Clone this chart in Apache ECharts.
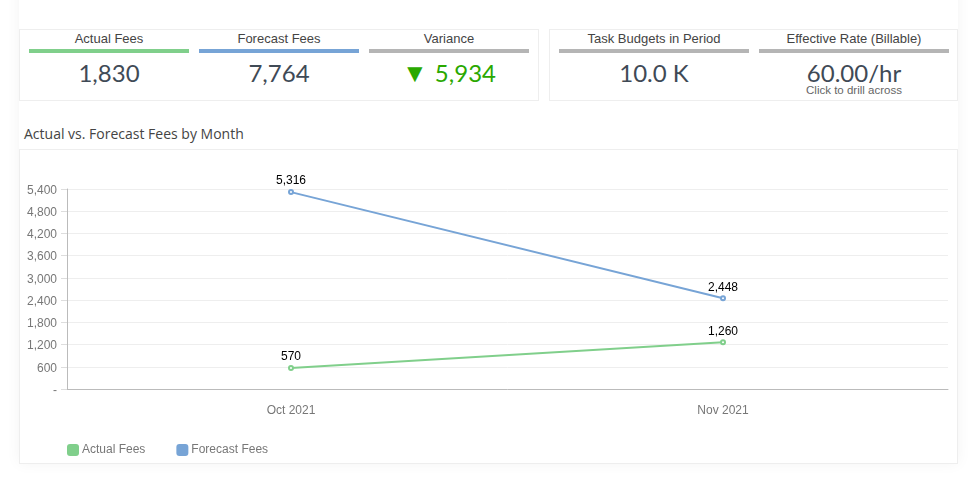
<!DOCTYPE html>
<html>
<head>
<meta charset="utf-8">
<script src="https://cdn.jsdelivr.net/npm/echarts@6/dist/echarts.min.js"></script>
<style>
    html, body { margin: 0; padding: 0; background: #fff; overflow: hidden; }
    body { width: 972px; height: 478px; position: relative; font-family: "Liberation Sans", sans-serif; }
    .sheet { position: absolute; left: 19px; top: -30px; width: 939px; height: 493px; background: #fff; box-shadow: 0 0 14px rgba(0,0,0,.05); }
    .box { position: absolute; box-sizing: border-box; border: 1px solid #eee; background: #fff; }
    .kpi-title, .kpi-value, .kpi-note { position: absolute; text-align: center; white-space: nowrap; }
    .kpi-title { top: 30px; height: 17px; line-height: 17px; font-size: 13px; color: #444; }
    .kpi-bar { position: absolute; top: 49px; height: 4px; }
    .kpi-value { top: 58px; height: 30px; line-height: 30px; font-family: Lato, sans-serif; font-size: 24px; color: #3f4a56; }
    .kpi-value span { font-family: "Liberation Sans", sans-serif; font-size: 26px; margin-right: 1px; }
    .kpi-note { top: 84px; height: 13px; line-height: 13px; font-size: 11.5px; color: #666; }
    #heading { position: absolute; left: 24px; top: 125px; line-height: 18px; font-family: "Open Sans", sans-serif; font-size: 14px; color: #444; }
    #chart { position: absolute; left: 20px; top: 150px; width: 937px; height: 312px; }
</style>
</head>
<body>
<div class="sheet"></div>
<div class="box" style="left:19px;top:29px;width:520px;height:72px"></div>
<div class="box" style="left:549px;top:29px;width:409px;height:72px"></div>
<div class="box" style="left:19px;top:149px;width:939px;height:315px"></div>
<div id="kpis"></div>
<div id="heading">Actual vs. Forecast Fees by Month</div>
<div id="chart"></div>

<script>
const months = ['Oct 2021', 'Nov 2021'];
const actualFees = [570, 1260];
const forecastFees = [5316, 2448];
const yTicks = [0, 600, 1200, 1800, 2400, 3000, 3600, 4200, 4800, 5400];

const kpiTitles = ['Actual Fees', 'Forecast Fees', 'Variance', 'Task Budgets in Period', 'Effective Rate (Billable)'];
const kpiValues = ['1,830', '7,764', '<span>▼</span> 5,934', '10.0 K', '60.00/hr'];
const kpiBarColors = ['#80cf8b', '#77a4d6', '#b5b5b5', '#b5b5b5', '#b5b5b5'];
const kpiValueColors = ['#3f4a56', '#3f4a56', '#2aa800', '#3f4a56', '#3f4a56'];
const kpiLeft = [29, 199, 369, 559, 759];
const kpiWidth = [160, 160, 160, 190, 190];

const kpis = document.getElementById('kpis');
kpiTitles.forEach((t, i) => {
    const pos = `left:${kpiLeft[i]}px;width:${kpiWidth[i]}px;`;
    kpis.innerHTML +=
        `<div class="kpi-title" style="${pos}">${t}</div>` +
        `<div class="kpi-bar" style="${pos}background:${kpiBarColors[i]}"></div>` +
        `<div class="kpi-value" style="${pos}color:${kpiValueColors[i]}">${kpiValues[i]}</div>`;
});
kpis.innerHTML += `<div class="kpi-note" style="left:759px;width:190px">Click to drill across</div>`;

const chart = echarts.init(document.getElementById('chart'));
const toPoints = arr => arr.map((v, i) => [i, v]);
const fmt = v => v === 0 ? '-' : v.toLocaleString('en-US');
const labelStyle = {
    show: true, position: 'top', distance: 2, color: '#000', fontSize: 12,
    fontFamily: 'Liberation Sans', formatter: p => p.value[1].toLocaleString('en-US')
};

chart.setOption({
    animation: false,
    textStyle: { fontFamily: 'Liberation Sans' },
    // chart div starts at (20,150), plot area runs 67-948 x 189-389 on the page
    grid: { left: 47, top: 39, width: 881, height: 200, containLabel: false },
    legend: {
        left: 42, top: 289, itemWidth: 12, itemHeight: 12, itemGap: 31, icon: 'roundRect',
        textStyle: { color: '#777', fontSize: 12, padding: [0, 0, 0, -2] },
        data: ['Actual Fees', 'Forecast Fees']
    },
    xAxis: {
        type: 'value', min: -0.5185, max: 1.5208, splitLine: { show: false },
        axisLine: { show: true, onZero: false, lineStyle: { color: '#bbb' } },
        axisTick: { show: false },
        axisLabel: {
            customValues: [0, 1], color: '#777', fontSize: 12, margin: 16,
            formatter: v => months[v]
        }
    },
    yAxis: {
        type: 'value', min: yTicks[0], max: yTicks[yTicks.length - 1], interval: 600,
        axisLine: { show: true, onZero: false, lineStyle: { color: '#bbb' } },
        axisTick: { show: true, length: 6, lineStyle: { color: '#ddd' } },
        axisLabel: { color: '#777', fontSize: 12, margin: 10, verticalAlign: 'top', lineHeight: 3, formatter: fmt },
        splitLine: { show: true, lineStyle: { color: '#eeeeee' } }
    },
    series: [
        {
            name: 'Actual Fees', type: 'line', data: toPoints(actualFees), color: '#80cf8b',
            symbol: 'emptyCircle', symbolSize: 4, lineStyle: { width: 2 }, label: labelStyle
        },
        {
            name: 'Forecast Fees', type: 'line', data: toPoints(forecastFees), color: '#77a4d6',
            symbol: 'emptyCircle', symbolSize: 4, lineStyle: { width: 2 }, label: labelStyle
        }
    ]
});
</script>
</body>
</html>
